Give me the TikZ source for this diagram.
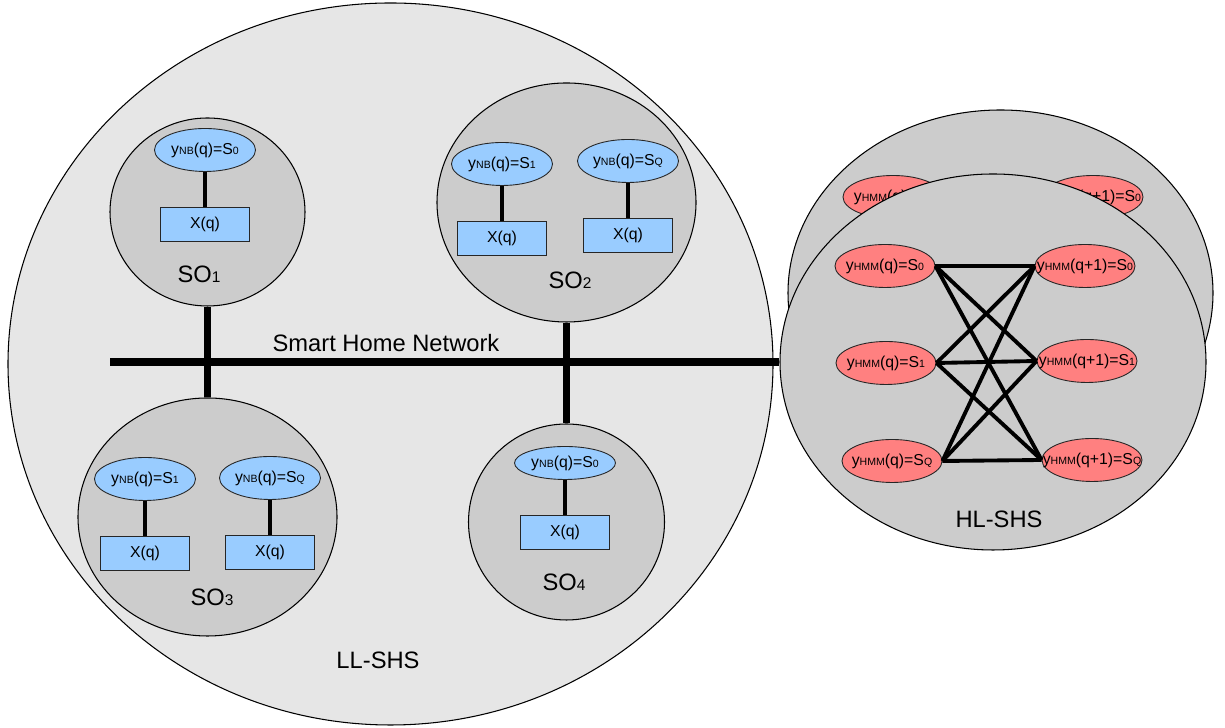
\documentclass[tikz,border=0pt]{standalone}
\usepackage{fontspec}
\setmainfont{Liberation Sans}
\usetikzlibrary{positioning,shapes.geometric}
\definecolor{llgray}{RGB}{230,230,230}
\definecolor{sogray}{RGB}{204,204,204}
\definecolor{nbblue}{RGB}{153,204,255}
\definecolor{hmmred}{RGB}{255,128,128}
\newcommand{\sml}[1]{{\fontsize{6}{6}\selectfont #1}}
\newcommand{\sonum}[1]{{\fontsize{8.8}{9}\selectfont #1}}
\newcommand{\ynb}[1]{\makebox[0pt]{y\sml{NB}(q)=S\sml{#1}}}
\newcommand{\yhmm}[2]{\makebox[0pt]{y\sml{HMM}(#1)=S\sml{#2}}}
\tikzset{
  shs/.style={ellipse, draw=black, fill=llgray, line width=0.6pt, inner sep=0pt},
  so/.style={ellipse, draw=black, fill=sogray, line width=0.6pt, inner sep=0pt},
  nbstate/.style={ellipse, draw=black!85, fill=nbblue, line width=0.5pt, minimum width=2.02cm, minimum height=0.86cm, inner sep=0pt, font=\fontsize{9}{10}\selectfont},
  obs/.style={rectangle, draw=black!85, fill=nbblue, line width=0.5pt, minimum width=1.78cm, minimum height=0.68cm, inner sep=0pt, font=\fontsize{9}{10}\selectfont},
  hmmstate/.style={ellipse, draw=black!85, fill=hmmred, line width=0.5pt, minimum width=2.0cm, minimum height=0.86cm, inner sep=0pt, font=\fontsize{9}{10}\selectfont},
  bigtext/.style={font=\fontsize{13.5}{15}\selectfont, inner sep=0pt},
  bus/.style={line width=4.5pt},
  link/.style={line width=2.2pt}
}
\begin{document}
\begin{tikzpicture}
  \useasboundingbox (0,0) rectangle (24.5,14.56);
  % low level smart home system
  \node[shs, minimum width=15.3cm, minimum height=14.44cm] (ll) at (7.81,7.28) {};
  \node[bigtext] (llname) at (7.56,1.36) {LL-SHS};
  \node[so, minimum width=3.9cm, minimum height=3.76cm] (so1) at (4.15,10.32) {};
  \node[nbstate] (y1) at (4.10,11.56) {\ynb{0}};
  \node[obs, below=0.7cm of y1] (x1) {X(q)};
  \draw[link] (y1) -- (x1);
  \node[bigtext] (so1name) at (3.98,9.08) {SO\sonum{1}};
  \node[so, minimum width=5.18cm, minimum height=4.78cm] (so2) at (11.33,10.51) {};
  \node[nbstate] (y2a) at (10.04,11.28) {\ynb{1}};
  \node[nbstate] (y2b) at (12.56,11.34) {\ynb{Q}};
  \node[obs, below=0.7cm of y2a] (x2a) {X(q)};
  \node[obs, below=0.7cm of y2b] (x2b) {X(q)};
  \draw[link] (y2a) -- (x2a); \draw[link] (y2b) -- (x2b);
  \node[bigtext] (so2name) at (11.40,8.96) {SO\sonum{2}};
  \node[so, minimum width=5.18cm, minimum height=4.76cm] (so3) at (4.15,4.22) {};
  \node[nbstate] (y3a) at (2.90,4.98) {\ynb{1}};
  \node[nbstate] (y3b) at (5.40,5.00) {\ynb{Q}};
  \node[obs, below=0.7cm of y3a] (x3a) {X(q)};
  \node[obs, below=0.7cm of y3b] (x3b) {X(q)};
  \draw[link] (y3a) -- (x3a); \draw[link] (y3b) -- (x3b);
  \node[bigtext] (so3name) at (4.24,2.62) {SO\sonum{3}};
  \node[so, minimum width=3.92cm, minimum height=3.92cm] (so4) at (11.33,4.12) {};
  \node[nbstate, minimum height=0.66cm] (y4) at (11.30,5.30) {\ynb{0}};
  \node[obs, below=0.7cm of y4] (x4) {X(q)};
  \draw[link] (y4) -- (x4);
  \node[bigtext] (so4name) at (11.28,2.92) {SO\sonum{4}};
  % high level smart home system
  \node[so, minimum width=8.5cm, minimum height=7.32cm] (hlback) at (20.01,8.70) {};
  \node[hmmstate] (b0) at (17.86,10.62) {\yhmm{q}{0}};
  \node[hmmstate] (b1) at (21.86,10.62) {\yhmm{q+1}{0}};
  \node[so, minimum width=8.52cm, minimum height=7.52cm] (hl) at (19.86,7.32) {};
  \node[hmmstate] (p0) at (17.70,9.24) {\yhmm{q}{0}};
  \node[hmmstate] (p1) at (17.72,7.30) {\yhmm{q}{1}};
  \node[hmmstate] (pq) at (17.84,5.34) {\yhmm{q}{Q}};
  \node[hmmstate] (n0) at (21.70,9.24) {\yhmm{q+1}{0}};
  \node[hmmstate] (n1) at (21.74,7.34) {\yhmm{q+1}{1}};
  \node[hmmstate] (nq) at (21.84,5.36) {\yhmm{q+1}{Q}};
  \draw[link] (p0.east) -- (n0.west); \draw[link] (p0.east) -- (n1.west); \draw[link] (p0.east) -- (nq.west);
  \draw[link] (p1.east) -- (n0.west); \draw[link] (p1.east) -- (n1.west); \draw[link] (p1.east) -- (nq.west);
  \draw[link] (pq.east) -- (n0.west); \draw[link] (pq.east) -- (n1.west); \draw[link] (pq.east) -- (nq.west);
  \node[bigtext] (hlname) at (19.98,4.18) {HL-SHS};
  % smart home network
  \coordinate (busstart) at (2.2,7.32);
  \draw[bus] (busstart) -- (hl.west);
  \draw[bus] (so1.south) -- (so3.north);
  \draw[bus] (so2.south) -- (so4.north);
  \node[bigtext] (busname) at (7.72,7.70) {Smart Home Network};
\end{tikzpicture}
\end{document}
